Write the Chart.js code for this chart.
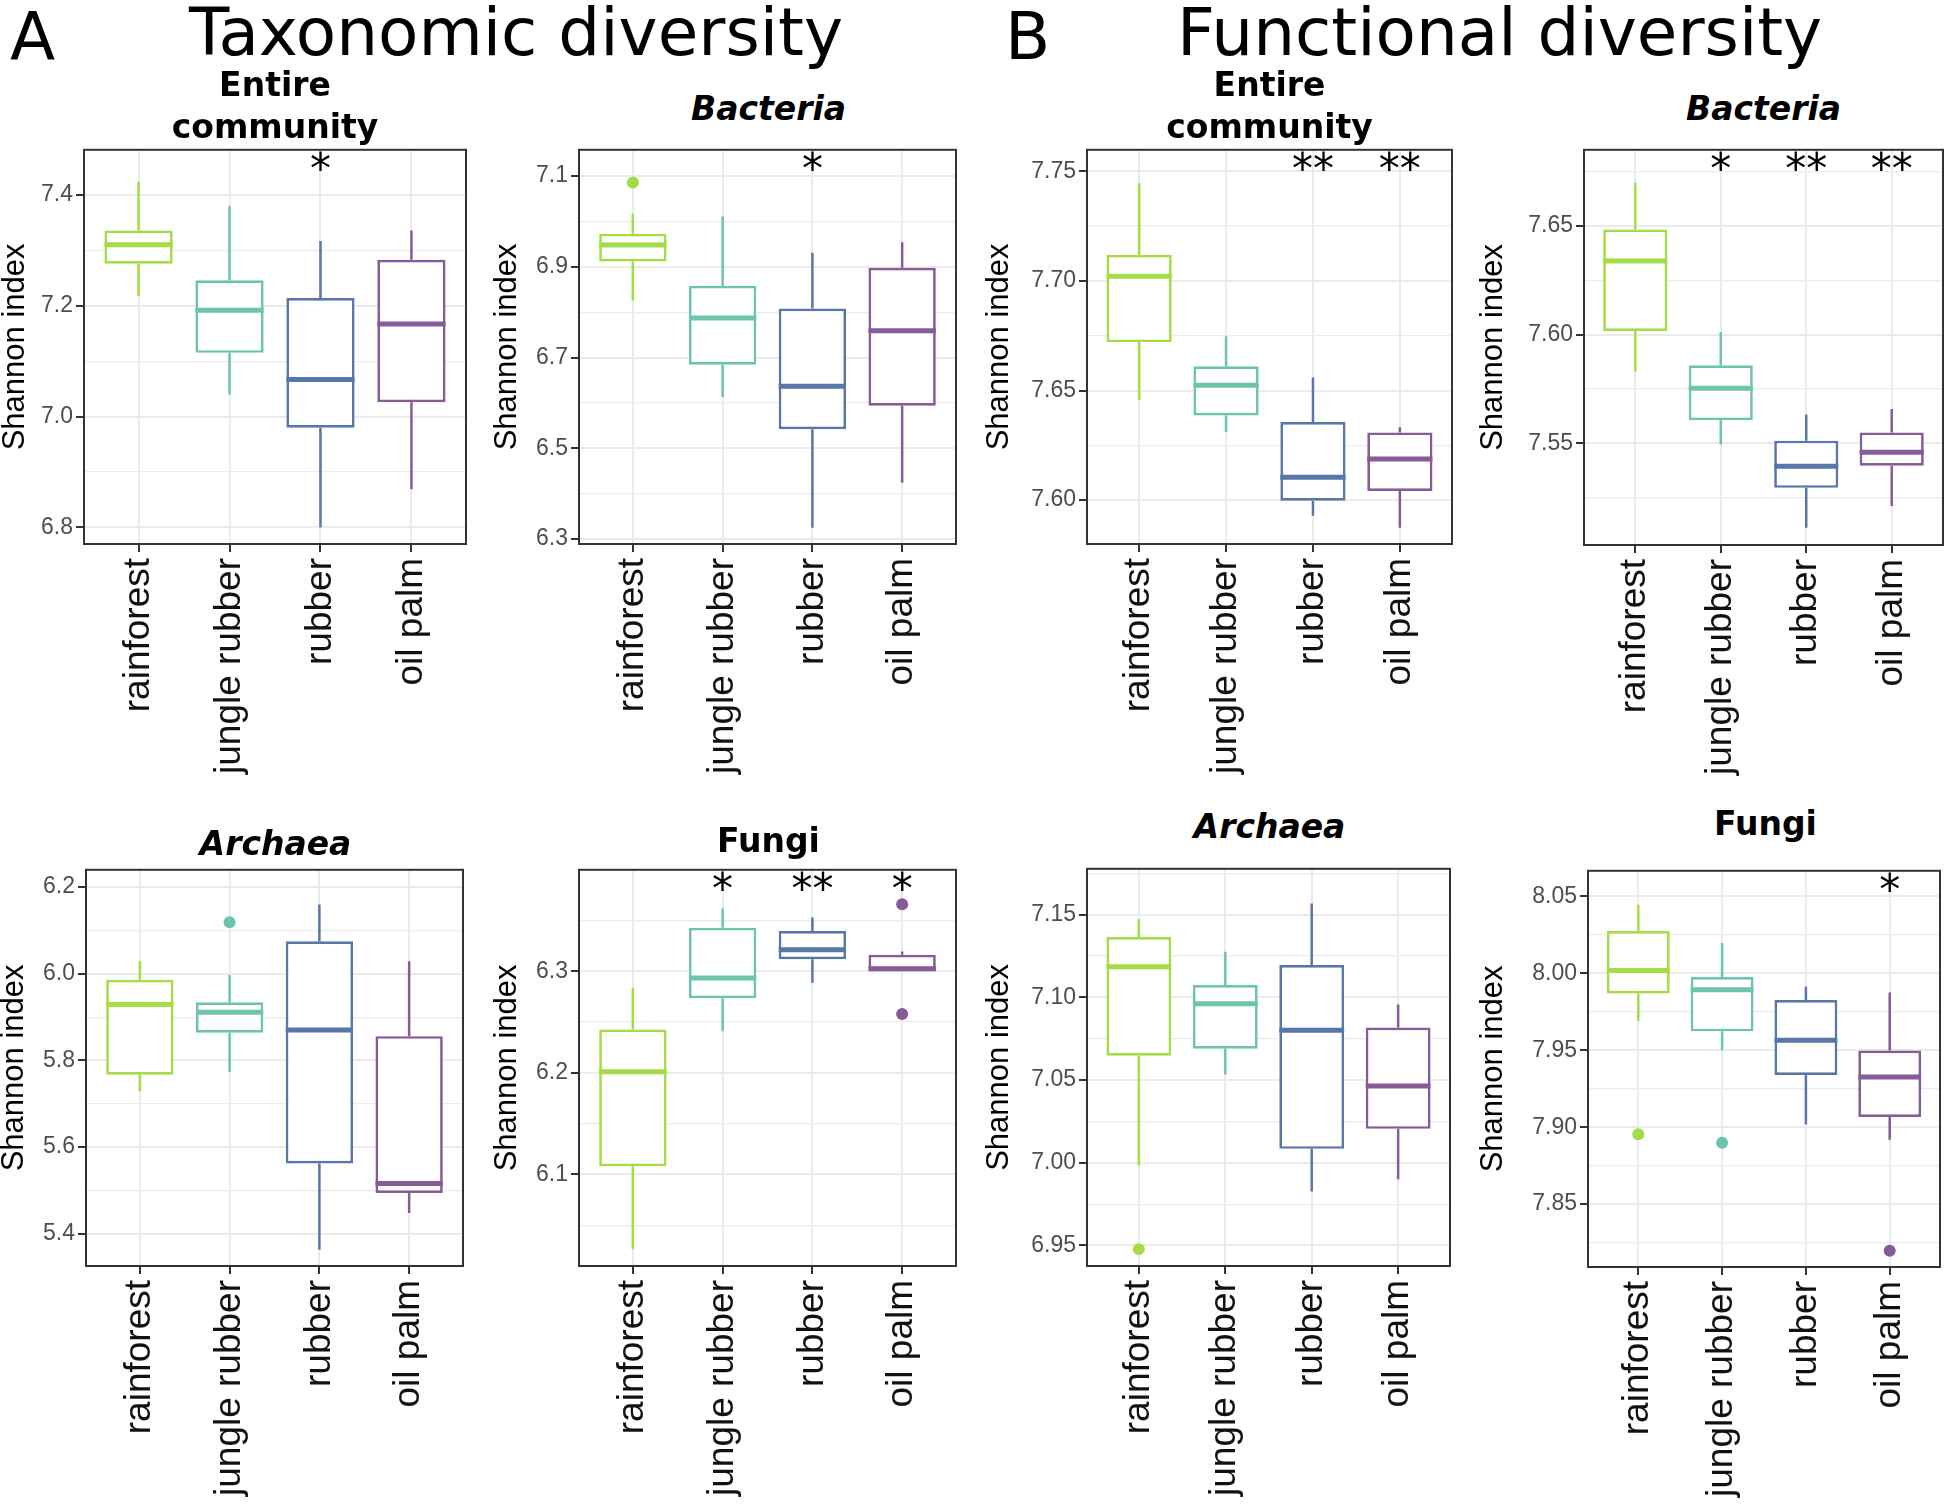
<!DOCTYPE html>
<html>
<head>
<meta charset="utf-8">
<script src="https://cdn.jsdelivr.net/npm/chart.js@4.4.1/dist/chart.umd.min.js"></script>
<style>
    body { margin: 0; background: #fff; width: 1946px; height: 1506px; position: relative; overflow: hidden; font-family: 'DejaVu Sans', sans-serif; }
    canvas { position: absolute; }
    .txt { position: absolute; white-space: nowrap; color: #000; }
    .big { font-size: 66px; line-height: 1; }
    .ptitle { font-size: 33px; font-weight: bold; line-height: 42px; text-align: center; }
    .it { font-style: italic; }
</style>
</head>
<body>
<div class="txt big" style="left:10px; top:4px;">A</div>
<div class="txt big" style="left:189px; top:0px;">Taxonomic diversity</div>
<div class="txt big" style="left:1005px; top:4px;">B</div>
<div class="txt big" style="left:1177px; top:0px;">Functional diversity</div>

<script>
const categories = ['rainforest', 'jungle rubber', 'rubber', 'oil palm'];
const boxColors = ['#a3dc45', '#6cc4ae', '#5677a7', '#875a98'];

// per habitat: [lower whisker, Q1, median, Q3, upper whisker]
const taxEntireStats = [[7.217, 7.276, 7.310, 7.336, 7.424], [7.040, 7.115, 7.192, 7.246, 7.380], [6.800, 6.980, 7.067, 7.214, 7.317], [6.869, 7.026, 7.167, 7.283, 7.336]];
const taxEntireOutliers = [];
const taxEntireStars = ['', '', '*', ''];
const taxEntireTicks = ['6.8', '7.0', '7.2', '7.4'];
const taxEntireRange = [6.770, 7.4815];

const taxBacteriaStats = [[6.826, 6.912, 6.948, 6.973, 7.017], [6.613, 6.684, 6.787, 6.858, 7.011], [6.325, 6.542, 6.637, 6.808, 6.931], [6.424, 6.594, 6.759, 6.898, 6.954]];
const taxBacteriaOutliers = [[0, 7.086]];
const taxBacteriaStars = ['', '', '*', ''];
const taxBacteriaTicks = ['6.3', '6.5', '6.7', '6.9', '7.1'];
const taxBacteriaRange = [6.289, 7.158];

const funEntireStats = [[7.6458, 7.6721, 7.7021, 7.7119, 7.7446], [7.6311, 7.6386, 7.6524, 7.6611, 7.6748], [7.5929, 7.5997, 7.6105, 7.6356, 7.6559], [7.5874, 7.6042, 7.6188, 7.6309, 7.6333]];
const funEntireOutliers = [];
const funEntireStars = ['', '', '**', '**'];
const funEntireTicks = ['7.60', '7.65', '7.70', '7.75'];
const funEntireRange = [7.580, 7.7598];

const funBacteriaStats = [[7.5830, 7.6017, 7.6339, 7.6483, 7.6698], [7.5494, 7.5606, 7.5753, 7.5859, 7.6012], [7.5111, 7.5295, 7.5394, 7.5512, 7.5632], [7.5211, 7.5397, 7.5459, 7.5550, 7.5658]];
const funBacteriaOutliers = [];
const funBacteriaStars = ['', '*', '**', '**'];
const funBacteriaTicks = ['7.55', '7.60', '7.65'];
const funBacteriaRange = [7.5032, 7.685];

const taxArchaeaStats = [[5.729, 5.767, 5.929, 5.986, 6.029], [5.773, 5.864, 5.911, 5.934, 5.997], [5.363, 5.562, 5.870, 6.075, 6.160], [5.448, 5.494, 5.516, 5.856, 6.029]];
const taxArchaeaOutliers = [[1, 6.119]];
const taxArchaeaStars = ['', '', '', ''];
const taxArchaeaTicks = ['5.4', '5.6', '5.8', '6.0', '6.2'];
const taxArchaeaRange = [5.3255, 6.240];

const taxFungiStats = [[6.0264, 6.1081, 6.2011, 6.2426, 6.2838], [6.2410, 6.2734, 6.2932, 6.3428, 6.3616], [6.2887, 6.3117, 6.3211, 6.3395, 6.3528], [6.3000, 6.3000, 6.3025, 6.3162, 6.3194]];
const taxFungiOutliers = [[3, 6.3658], [3, 6.2579]];
const taxFungiStars = ['', '*', '**', '*'];
const taxFungiTicks = ['6.1', '6.2', '6.3'];
const taxFungiRange = [6.0099, 6.3998];

const funArchaeaStats = [[6.9984, 7.0647, 7.1185, 7.1365, 7.1474], [7.0534, 7.0689, 7.0962, 7.1074, 7.1275], [6.9827, 7.0084, 7.0801, 7.1195, 7.1568], [6.9900, 7.0205, 7.0464, 7.0817, 7.0956]];
const funArchaeaOutliers = [[0, 6.9478]];
const funArchaeaStars = ['', '', '', ''];
const funArchaeaTicks = ['6.95', '7.00', '7.05', '7.10', '7.15'];
const funArchaeaRange = [6.9376, 7.1777];

const funFungiStats = [[7.9690, 7.9870, 8.0018, 8.0275, 8.0446], [7.9501, 7.9623, 7.9893, 7.9977, 8.0198], [7.9017, 7.9340, 7.9565, 7.9827, 7.9913], [7.8918, 7.9066, 7.9327, 7.9499, 7.9876]];
const funFungiOutliers = [[0, 7.8954], [1, 7.8899], [3, 7.8196]];
const funFungiStars = ['', '', '', '*'];
const funFungiTicks = ['7.85', '7.90', '7.95', '8.00', '8.05'];
const funFungiRange = [7.8091, 8.0667];

// layout: plot area [left, top, right, bottom], centre of y title, bottom of canvas
const panels = [
    { title: ['Entire', 'community'], italic: false, titleTop: 64, stats: taxEntireStats, outliers: taxEntireOutliers, stars: taxEntireStars, ticks: taxEntireTicks, range: taxEntireRange, plot: [84, 145, 466, 544], yTitleX: 15, bottom: 800 },
    { title: ['Bacteria'], italic: true, titleTop: 88, stats: taxBacteriaStats, outliers: taxBacteriaOutliers, stars: taxBacteriaStars, ticks: taxBacteriaTicks, range: taxBacteriaRange, plot: [579, 145, 958, 544], yTitleX: 507, bottom: 800 },
    { title: ['Entire', 'community'], italic: false, titleTop: 64, stats: funEntireStats, outliers: funEntireOutliers, stars: funEntireStars, ticks: funEntireTicks, range: funEntireRange, plot: [1087, 145, 1452, 544], yTitleX: 999, bottom: 800 },
    { title: ['Bacteria'], italic: true, titleTop: 88, stats: funBacteriaStats, outliers: funBacteriaOutliers, stars: funBacteriaStars, ticks: funBacteriaTicks, range: funBacteriaRange, plot: [1584, 145, 1943, 545], yTitleX: 1493, bottom: 800 },
    { title: ['Archaea'], italic: true, titleTop: 823, stats: taxArchaeaStats, outliers: taxArchaeaOutliers, stars: taxArchaeaStars, ticks: taxArchaeaTicks, range: taxArchaeaRange, plot: [86, 865, 465, 1266], yTitleX: 14, bottom: 1506 },
    { title: ['Fungi'], italic: false, titleTop: 820, stats: taxFungiStats, outliers: taxFungiOutliers, stars: taxFungiStars, ticks: taxFungiTicks, range: taxFungiRange, plot: [579, 865, 958, 1266], yTitleX: 507, bottom: 1506 },
    { title: ['Archaea'], italic: true, titleTop: 806, stats: funArchaeaStats, outliers: funArchaeaOutliers, stars: funArchaeaStars, ticks: funArchaeaTicks, range: funArchaeaRange, plot: [1087, 864, 1452, 1266], yTitleX: 999, bottom: 1506 },
    { title: ['Fungi'], italic: false, titleTop: 803, stats: funFungiStats, outliers: funFungiOutliers, stars: funFungiStars, ticks: funFungiTicks, range: funFungiRange, plot: [1588, 866, 1943, 1267], yTitleX: 1493, bottom: 1506 }
];

const BOX_HALF = 0.375;

const framePlugin = {
    id: 'frame',
    afterDraw(chart) {
        const { ctx, chartArea } = chart;
        ctx.save();
        ctx.strokeStyle = '#333333';
        ctx.lineWidth = 2;
        ctx.strokeRect(chartArea.left, chartArea.top, chartArea.right - chartArea.left, chartArea.bottom - chartArea.top);
        ctx.restore();
    }
};

const starPlugin = {
    id: 'stars',
    afterDatasetsDraw(chart, args, opts) {
        const { ctx, chartArea, scales } = chart;
        ctx.save();
        ctx.font = '42px "DejaVu Sans"';
        ctx.fillStyle = '#000';
        ctx.textAlign = 'center';
        ctx.textBaseline = 'alphabetic';
        opts.marks.forEach((m, i) => {
            if (m) ctx.fillText(m, scales.x.getPixelForValue(i + 1), chartArea.top + 33);
        });
        ctx.restore();
    }
};

function makeChart(p) {
    const [pl, pt, pr, pb] = p.plot;
    const left = p.yTitleX - 15;
    const top = pt - 12;
    const right = Math.min(pr + 4, 1946);
    const canvas = document.createElement('canvas');
    canvas.width = right - left;
    canvas.height = p.bottom - top;
    canvas.style.left = left + 'px';
    canvas.style.top = top + 'px';
    document.body.appendChild(canvas);

    const title = document.createElement('div');
    title.className = 'txt ptitle' + (p.italic ? ' it' : '');
    title.style.left = pl + 'px';
    title.style.width = (pr - pl) + 'px';
    title.style.top = p.titleTop + 'px';
    title.innerHTML = p.title.join('<br>');
    document.body.appendChild(title);

    const yW = pl - left;
    const xH = p.bottom - pb;

    const majors = p.ticks.map(Number);
    const step = majors[1] - majors[0];
    const yTicks = p.ticks.map(t => ({ value: Number(t), isMajor: true, text: t }));
    for (let k = -1; k < majors.length; k++) {
        const v = majors[0] + step * (k + 0.5);
        if (v > p.range[0] && v < p.range[1]) yTicks.push({ value: v, isMajor: false, text: '' });
    }
    yTicks.sort((a, b) => a.value - b.value);
    const xTicks = categories.map((c, i) => ({ value: i + 1 }));

    return new Chart(canvas, {
        type: 'bar',
        data: {
            datasets: [
                {
                    type: 'bar',
                    data: p.stats.map((s, i) => ({ x: i + 1, y: [s[1], s[3]] })),
                    backgroundColor: '#ffffff',
                    borderColor: boxColors,
                    borderWidth: 2.7,
                    borderSkipped: false,
                    grouped: false,
                    barPercentage: BOX_HALF * 2,
                    categoryPercentage: 1,
                    order: 2
                },
                {
                    type: 'bar',
                    data: p.stats.map((s, i) => ({ x: i + 1, y: [s[0], s[1]] })),
                    backgroundColor: boxColors,
                    borderWidth: 0,
                    grouped: false,
                    maxBarThickness: 2.5,
                    order: 3
                },
                {
                    type: 'bar',
                    data: p.stats.map((s, i) => ({ x: i + 1, y: [s[3], s[4]] })),
                    backgroundColor: boxColors,
                    borderWidth: 0,
                    grouped: false,
                    maxBarThickness: 2.5,
                    order: 3
                },
                {
                    type: 'scatter',
                    data: p.stats.map((s, i) => ({ x: i + 1, y: s[2] })),
                    pointStyle: 'line',
                    pointRadius: ctx => {
                        const x = ctx.chart.scales && ctx.chart.scales.x;
                        if (!x) return 30;
                        return x.getPixelForValue(1 + BOX_HALF) - x.getPixelForValue(1);
                    },
                    pointBorderColor: boxColors,
                    pointBorderWidth: 5,
                    order: 1
                },
                {
                    type: 'scatter',
                    data: p.outliers.map(o => ({ x: o[0] + 1, y: o[1] })),
                    pointStyle: 'circle',
                    pointRadius: 6,
                    pointBorderWidth: 0,
                    pointBackgroundColor: p.outliers.map(o => boxColors[o[0]]),
                    order: 0
                }
            ]
        },
        options: {
            responsive: false,
            animation: false,
            events: [],
            layout: { padding: { top: 12, right: right - pr, left: 0, bottom: 0 } },
            plugins: {
                legend: { display: false },
                tooltip: { enabled: false },
                stars: { marks: p.stars }
            },
            scales: {
                x: {
                    type: 'linear',
                    min: 0.4,
                    max: 4.6,
                    offset: false,
                    afterBuildTicks: s => { s.ticks = xTicks; },
                    afterFit: s => { s.height = xH; },
                    ticks: {
                        autoSkip: false,
                        minRotation: 90,
                        maxRotation: 90,
                        padding: 6,
                        color: '#111',
                        font: { family: 'Liberation Sans', size: 37 },
                        callback: v => categories[v - 1]
                    },
                    grid: { offset: false, color: '#ebebeb', lineWidth: 2, tickColor: '#333', tickLength: 8, tickWidth: 2 },
                    border: { display: false }
                },
                y: {
                    min: p.range[0],
                    max: p.range[1],
                    afterBuildTicks: s => { s.ticks = yTicks; },
                    afterFit: s => { s.width = yW; },
                    ticks: {
                        autoSkip: false,
                        padding: 3,
                        color: '#4d4d4d',
                        font: { family: 'Liberation Sans', size: 23 },
                        callback: (v, i, t) => (t[i] ? t[i].text : '')
                    },
                    grid: {
                        color: '#ebebeb',
                        lineWidth: c => (c.tick && c.tick.isMajor ? 2 : 1.2),
                        tickColor: c => (c.tick && c.tick.isMajor ? '#333' : 'rgba(0,0,0,0)'),
                        tickLength: 8,
                        tickWidth: 2
                    },
                    title: {
                        display: true,
                        text: 'Shannon index',
                        color: '#000',
                        font: { family: 'Liberation Sans', size: 31, lineHeight: 1 },
                        padding: 0
                    },
                    border: { display: false }
                }
            }
        },
        plugins: [framePlugin, starPlugin]
    });
}

panels.forEach(makeChart);
</script>
</body>
</html>
